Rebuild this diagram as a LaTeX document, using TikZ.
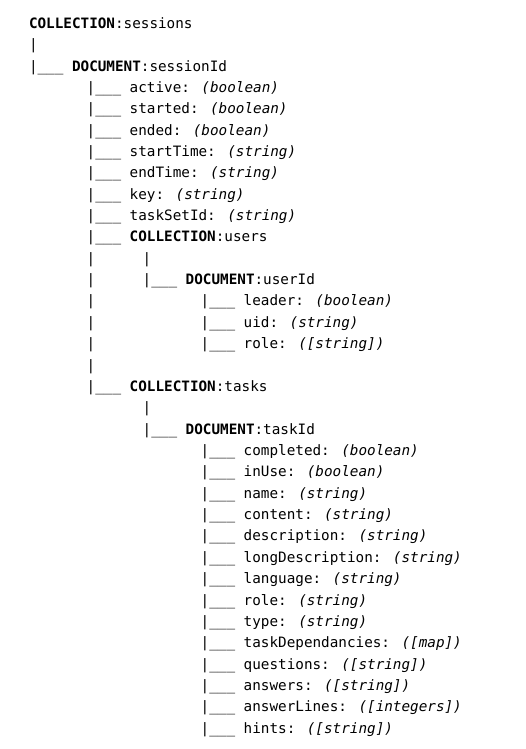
\documentclass[tikz,border=0pt]{standalone}
\usepackage{fontspec}
\newfontfamily\treemono{DejaVu Sans Mono}
\begin{document}
\begin{tikzpicture}[x=1pt,y=-1pt,
  txt/.style={anchor=base west,inner sep=0pt,outer sep=0pt,font=\treemono\fontsize{14.3}{17}\selectfont}]
\useasboundingbox[fill=white] (0,0) rectangle (525,749);
\def\xA{29}\def\xB{86.7}\def\xC{142.7}\def\xD{200.7}
\newcommand\rowy[1]{{28.3+21.36*#1}}
\newcommand\br{|\_\_\_ }
\node[txt] (n0) at (\xA,\rowy{0}) {\textbf{COLLECTION}:sessions};
\node[txt] (n1) at (\xA,\rowy{1}) {|};
\node[txt] (n2) at (\xA,\rowy{2}) {\br\textbf{DOCUMENT}:sessionId};
\node[txt] (n3) at (\xB,\rowy{3}) {\br active: \textit{(boolean)}};
\node[txt] (n4) at (\xB,\rowy{4}) {\br started: \textit{(boolean)}};
\node[txt] (n5) at (\xB,\rowy{5}) {\br ended: \textit{(boolean)}};
\node[txt] (n6) at (\xB,\rowy{6}) {\br startTime: \textit{(string)}};
\node[txt] (n7) at (\xB,\rowy{7}) {\br endTime: \textit{(string)}};
\node[txt] (n8) at (\xB,\rowy{8}) {\br key: \textit{(string)}};
\node[txt] (n9) at (\xB,\rowy{9}) {\br taskSetId: \textit{(string)}};
\node[txt] (n10) at (\xB,\rowy{10}) {\br\textbf{COLLECTION}:users};
\node[txt] (p11) at (\xB,\rowy{11}) {|};
\node[txt] (n11) at (\xC,\rowy{11}) {|};
\node[txt] (p12) at (\xB,\rowy{12}) {|};
\node[txt] (n12) at (\xC,\rowy{12}) {\br\textbf{DOCUMENT}:userId};
\node[txt] (p13) at (\xB,\rowy{13}) {|};
\node[txt] (n13) at (\xD,\rowy{13}) {\br leader: \textit{(boolean)}};
\node[txt] (p14) at (\xB,\rowy{14}) {|};
\node[txt] (n14) at (\xD,\rowy{14}) {\br uid: \textit{(string)}};
\node[txt] (p15) at (\xB,\rowy{15}) {|};
\node[txt] (n15) at (\xD,\rowy{15}) {\br role: \textit{([string])}};
\node[txt] (p16) at (\xB,\rowy{16}) {|};
\node[txt] (n17) at (\xB,\rowy{17}) {\br\textbf{COLLECTION}:tasks};
\node[txt] (n18) at (\xC,\rowy{18}) {|};
\node[txt] (n19) at (\xC,\rowy{19}) {\br\textbf{DOCUMENT}:taskId};
\node[txt] (n20) at (\xD,\rowy{20}) {\br completed: \textit{(boolean)}};
\node[txt] (n21) at (\xD,\rowy{21}) {\br inUse: \textit{(boolean)}};
\node[txt] (n22) at (\xD,\rowy{22}) {\br name: \textit{(string)}};
\node[txt] (n23) at (\xD,\rowy{23}) {\br content: \textit{(string)}};
\node[txt] (n24) at (\xD,\rowy{24}) {\br description: \textit{(string)}};
\node[txt] (n25) at (\xD,\rowy{25}) {\br longDescription: \textit{(string)}};
\node[txt] (n26) at (\xD,\rowy{26}) {\br language: \textit{(string)}};
\node[txt] (n27) at (\xD,\rowy{27}) {\br role: \textit{(string)}};
\node[txt] (n28) at (\xD,\rowy{28}) {\br type: \textit{(string)}};
\node[txt] (n29) at (\xD,\rowy{29}) {\br taskDependancies: \textit{([map])}};
\node[txt] (n30) at (\xD,\rowy{30}) {\br questions: \textit{([string])}};
\node[txt] (n31) at (\xD,\rowy{31}) {\br answers: \textit{([string])}};
\node[txt] (n32) at (\xD,\rowy{32}) {\br answerLines: \textit{([integers])}};
\node[txt] (n33) at (\xD,\rowy{33}) {\br hints: \textit{([string])}};
\end{tikzpicture}
\end{document}
